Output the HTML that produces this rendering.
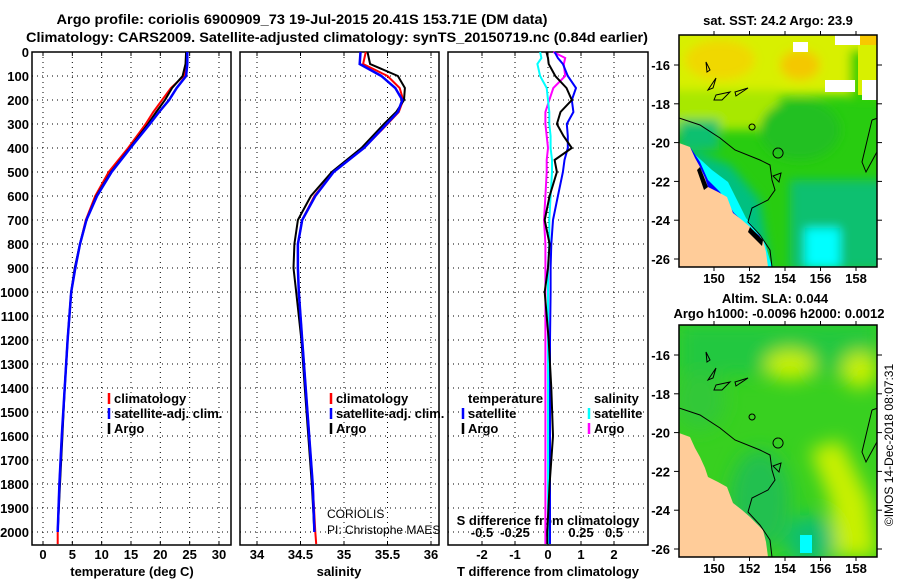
<!DOCTYPE html>
<html><head><meta charset="utf-8"><style>
body{margin:0;background:#fff}
svg{display:block;font-family:"Liberation Sans",sans-serif}
.b{font-weight:bold;font-size:13px}
</style></head><body>
<svg id="c" width="900" height="580" viewBox="0 0 900 580" xmlns="http://www.w3.org/2000/svg">
<defs>
<filter id="bl1" x="-20%" y="-20%" width="140%" height="140%"><feGaussianBlur stdDeviation="5"/></filter>
<filter id="bl2" x="-20%" y="-20%" width="140%" height="140%"><feGaussianBlur stdDeviation="9"/></filter>
<clipPath id="m1c"><rect x="679" y="35" width="198" height="232"/></clipPath>
<clipPath id="m2c"><rect x="679" y="325" width="198" height="232"/></clipPath>
</defs>
<text x="302" y="24" text-anchor="middle" font-weight="bold" font-size="14" textLength="491" lengthAdjust="spacingAndGlyphs">Argo profile: coriolis 6900909_73 19-Jul-2015 20.41S 153.71E (DM data)</text>
<text x="337" y="42" text-anchor="middle" font-weight="bold" font-size="14" textLength="622" lengthAdjust="spacingAndGlyphs">Climatology: CARS2009. Satellite-adjusted climatology: synTS_20150719.nc (0.84d earlier)</text>
<g id="plots"></g>
<g id="maps"></g>
</svg>
<script>
// ---- profile data ----
const depths = [0,50,100,150,200,250,300,400,500,600,700,800,900,1000,1200,1400,1600,1800,2000,2050];
const depthArgo = [0,50,100,150,200,250,300,400,500,600,700,800,900,1000,1200,1400,1600,1800,2000];
const tClim = [24.5,24.5,24.0,21.8,20.3,18.8,17.5,14.5,11.2,8.9,7.3,6.3,5.5,4.8,4.2,3.7,3.2,2.8,2.5,2.5];
const tSat  = [24.6,24.6,24.4,22.8,21.5,19.8,18.2,14.9,11.7,9.2,7.4,6.3,5.5,4.8,4.2,3.7,3.2,2.8,2.5];
const tArgo = [24.4,24.3,23.8,22.0,20.8,19.3,17.9,14.8,11.6,9.1,7.4,6.3,5.4,4.8,4.2,3.7,3.3,2.9,2.5];
const sClim = [35.25,35.22,35.5,35.64,35.68,35.63,35.5,35.23,34.88,34.66,34.52,34.47,34.47,34.48,34.52,34.56,34.6,34.64,34.67,34.68];
const sSat  = [35.19,35.18,35.43,35.59,35.67,35.62,35.49,35.23,34.88,34.67,34.52,34.47,34.47,34.48,34.52,34.56,34.6,34.64,34.66];
const sArgo = [35.27,35.3,35.62,35.7,35.69,35.6,35.46,35.2,34.86,34.62,34.47,34.43,34.42,34.45,34.51,34.55,34.59,34.63,34.66];
const diffDepths = [0,25,50,100,150,200,250,300,350,400,450,500,600,700,800,900,1000,1200,1400,1600,1800,2000,2050];
const dtSat  = [0.2,0.3,0.45,0.6,0.85,0.72,0.77,0.57,0.6,0.6,0.5,0.45,0.3,0.15,0.1,0.08,0.08,0.06,0.06,0.06,0.06,0.06,0.06];
const dtArgo = [-0.05,0.0,0.02,0.22,0.56,0.72,0.38,0.27,0.47,0.72,0.2,0.27,0.05,-0.1,0.05,0.0,-0.1,0.02,0.1,0.15,0.05,-0.02,-0.02];
const dsSat  = [-0.06,-0.05,-0.08,-0.06,-0.01,0,0.01,0.01,0.02,0.02,0.03,0.03,0.02,0.01,0.01,0,0,0,0,0,0,0,0];
const dsArgo = [0.04,0.13,0.12,0.13,0.04,0.01,-0.02,-0.02,-0.01,0,-0.01,-0.01,-0.02,-0.03,-0.02,-0.02,-0.02,-0.02,-0.02,-0.02,-0.02,-0.02,-0.02];
const depthTicks = [0,100,200,300,400,500,600,700,800,900,1000,1100,1200,1300,1400,1500,1600,1700,1800,1900,2000];
const tTicks = [0,5,10,15,20,25,30];
const sTicks = [34,34.5,35,35.5,36];
const dtTicks = [-2,-1,0,1,2];
const dsTicks = [-0.5,-0.25,0,0.25,0.5];
const lonTicks = [150,152,154,156,158];
const latTicks = [-16,-18,-20,-22,-24,-26];

const NS='http://www.w3.org/2000/svg';
const root=document.getElementById('plots');
function mk(tag,attrs,parent){const e=document.createElementNS(NS,tag);for(const k in attrs)e.setAttribute(k,attrs[k]);(parent||root).appendChild(e);return e;}
const yD = d => 52 + d*0.24;
const xT = v => 43 + v*5.866;
const xS = v => 257 + (v-34)*87;
const xDT = v => 548 + v*33;
const xDS = v => 548 + v*132;
const PT=52, PB=545;

function panel(name,x0,x1,ticks,xf){
  const g=mk('g',{});
  
  
  ticks.forEach(t=>{const x=xf(t);mk('line',{x1:x,x2:x,y1:PT,y2:PB,stroke:'#000','stroke-width':1,'stroke-dasharray':'1,4'},g);
    mk('line',{x1:x,x2:x,y1:PT,y2:PT+4,stroke:'#000'},g);mk('line',{x1:x,x2:x,y1:PB,y2:PB-4,stroke:'#000'},g);});
  depthTicks.forEach(d=>{const y=yD(d);mk('line',{x1:x0,x2:x1,y1:y,y2:y,stroke:'#000','stroke-width':1,'stroke-dasharray':'1,4'},g);});
  mk('rect',{x:x0,y:PT,width:x1-x0,height:PB-PT,fill:'none',stroke:'#000','stroke-width':1.5},g);
  return g;
}
function series(name,vals,ds,xf,color,w){
  let d='';vals.forEach((v,i)=>{d+=(i?'L':'M')+xf(v).toFixed(1)+','+yD(ds[i]).toFixed(1);});
  const p=mk('path',{d:d,fill:'none',stroke:color,'stroke-width':w||2});
  
  
}
function txt(s,x,y,name,extra){const t=mk('text',Object.assign({x:x,y:y,class:'b'},extra||{}));t.textContent=s;return t;}

panel('temperature-panel',32,231,tTicks,xT);
panel('salinity-panel',240,439,sTicks,xS);
panel('difference-panel',448,648,dtTicks,xDT);

depthTicks.forEach(d=>{txt(String(d),29,yD(d)+5,'depth-tick-label',{'text-anchor':'end'});});
tTicks.forEach(t=>{txt(String(t),xT(t),559,'temperature-tick-label',{'text-anchor':'middle'});});
sTicks.forEach(t=>{txt(String(t),xS(t),559,'salinity-tick-label',{'text-anchor':'middle'});});
dtTicks.forEach(t=>{txt(String(t),xDT(t),559,'t-diff-tick-label',{'text-anchor':'middle'});});
dsTicks.forEach(t=>{txt(String(t),xDS(t),537,'s-diff-tick-label',{'text-anchor':'middle'});});
txt('temperature (deg C)',132,576,'temperature-axis-title',{'text-anchor':'middle'});
txt('salinity',339,576,'salinity-axis-title',{'text-anchor':'middle'});
txt('T difference from climatology',548,576,'t-diff-axis-title',{'text-anchor':'middle'});
txt('S difference from climatology',548,525,'s-diff-axis-title',{'text-anchor':'middle'});

series('temp-climatology-line',tClim,depths,xT,'#f00',2);
series('temp-argo-line',tArgo,depthArgo,xT,'#000',2);
series('temp-satellite-line',tSat,depthArgo,xT,'#00f',2.5);
series('sal-climatology-line',sClim,depths,xS,'#f00',2);
series('sal-argo-line',sArgo,depthArgo,xS,'#000',2);
series('sal-satellite-line',sSat,depthArgo,xS,'#00f',2.5);
series('s-diff-argo-line',dsArgo,diffDepths,xDS,'#f0f',2);
series('s-diff-satellite-line',dsSat,diffDepths,xDS,'#0ff',2);
series('t-diff-satellite-line',dtSat,diffDepths,xDT,'#00f',2);
series('t-diff-argo-line',dtArgo,diffDepths,xDT,'#000',2);

function legend(x,y,color,label,name){const l=mk('line',{x1:x,x2:x,y1:y-10,y2:y+1,stroke:color,'stroke-width':2.5});txt(label,x+5,y,name);}
legend(109,403,'#f00','climatology','legend-climatology');
legend(109,418,'#00f','satellite-adj. clim.','legend-satellite-adj');
legend(109,433,'#000','Argo','legend-argo');
legend(331,403,'#f00','climatology','legend-sal-climatology');
legend(331,418,'#00f','satellite-adj. clim.','legend-sal-satellite-adj');
legend(331,433,'#000','Argo','legend-sal-argo');
txt('temperature',468,403,'legend-temperature-heading');
legend(463,418,'#00f','satellite','legend-t-satellite');
legend(463,433,'#000','Argo','legend-t-argo');
txt('salinity',594,403,'legend-salinity-heading');
legend(589,418,'#0ff','satellite','legend-s-satellite');
legend(589,433,'#f0f','Argo','legend-s-argo');
let t1=txt('CORIOLIS',327,518,'source-label');t1.setAttribute('class','');t1.setAttribute('font-size','12');
let t2=txt('PI: Christophe MAES',327,534,'pi-label');t2.setAttribute('class','');t2.setAttribute('font-size','12');

// ---- maps ----
const mg=document.getElementById('maps');
const lonX = lon => 714 + (lon-150)*17.75;
const latY = lat => 65 + (-16-lat)*19.4;
const coast='M679,143 L690,147 L695,158 L700,167 L705,178 L708,187 L718,192 L727,197 L730,205 L733,213 L742,220 L750,227 L757,234 L763,240 L766,252 L768,267 L679,267 Z';
const contours='M679,118 L700,125 L720,138 L735,150 L760,160 L770,165 L772,180 L775,190 L768,200 L752,208 L748,222 L760,235 L770,250 L772,267 M872,120 L878,118 L878,150 L866,172 L862,162 L872,120 M706,62 L710,70 L707,72 Z M716,78 L713,88 L708,90 Z M716,95 L730,92 L722,100 L714,100 Z M735,92 L748,88 L736,96 Z M752,124 a3,3 0 1,0 0.1,0 M778,148 a5,5 0 1,0 0.1,0 M773,176 L781,173 L779,182 Z';
function map(y0,id,body,label){
  const g=document.createElementNS(NS,'g');
  
  
  g.innerHTML=body;
  mg.appendChild(g);
  return g;
}
map(0,'sst-map',
`<g clip-path="url(#m1c)"><rect x="679" y="35" width="198" height="232" fill="#28cc10"/>
<g filter="url(#bl1)"><rect x="670" y="25" width="220" height="70" fill="#d8f000"/><rect x="670" y="90" width="110" height="40" fill="#a8e800"/>
<ellipse cx="720" cy="60" rx="35" ry="20" fill="#f0d800"/><ellipse cx="800" cy="65" rx="20" ry="15" fill="#f4c800"/>
<rect x="850" y="50" width="30" height="50" fill="#30d000"/><ellipse cx="800" cy="130" rx="40" ry="30" fill="#20c020"/>
<rect x="790" y="180" width="100" height="90" fill="#10c070"/><rect x="679" y="120" width="40" height="30" fill="#10c070"/>
<path d="M690,150 L730,165 L760,200 L770,267 L690,267 Z" fill="#00c080"/>
<rect x="805" y="228" width="35" height="40" fill="#00ffff"/></g>
<rect x="860" y="35" width="17" height="10" fill="#f8c800"/><rect x="835" y="35" width="25" height="10" fill="#fff"/><rect x="825" y="80" width="30" height="12" fill="#fff"/><rect x="858" y="45" width="19" height="50" fill="#d8f000"/><rect x="862" y="80" width="15" height="20" fill="#fff"/><rect x="793" y="42" width="15" height="10" fill="#fff"/>
<path d="M690,150 L712,170 L728,182 L746,218 L764,240 L772,267 L760,267 L752,245 L735,225 L722,205 L705,190 Z" fill="#00ffff"/>
<path d="M690,147 L700,162 L708,180 L720,192 L734,213 L750,228 L760,236 L758,245 L745,232 L730,220 L712,200 L696,180 Z" fill="#0000ff"/>
<path d="${coast}" fill="#ffcc99"/><path d="M700,167 L708,187 L704,190 L697,170 Z M750,227 L763,240 L762,246 L748,232 Z" fill="#000"/>
<path d="${contours}" fill="none" stroke="#000" stroke-width="1"/></g>
<rect x="679" y="35" width="198" height="232" fill="none" stroke="#000" stroke-width="1.5"/>
<text x="778" y="25" text-anchor="middle" class="b">sat. SST: 24.2 Argo: 23.9</text>`);
map(290,'sla-map',
`<g clip-path="url(#m2c)"><rect x="679" y="325" width="198" height="232" fill="#38d020"/>
<g filter="url(#bl2)"><rect x="679" y="325" width="198" height="50" fill="#20c840"/><ellipse cx="790" cy="365" rx="25" ry="15" fill="#c8f000"/><ellipse cx="860" cy="370" rx="18" ry="18" fill="#c8f000"/>
<path d="M810,450 L840,440 L870,500 L877,557 L835,557 L830,500 Z" fill="#c8f000"/><ellipse cx="760" cy="500" rx="30" ry="50" fill="#20c050"/><ellipse cx="700" cy="400" rx="25" ry="30" fill="#30c838"/><ellipse cx="810" cy="540" rx="25" ry="25" fill="#10c070"/></g>
<rect x="800" y="535" width="12" height="18" fill="#00ffff"/>
<path d="${coast}" transform="translate(0,290)" fill="#ffcc99"/>
<path d="${contours}" transform="translate(0,290)" fill="none" stroke="#000" stroke-width="1"/></g>
<rect x="679" y="325" width="198" height="232" fill="none" stroke="#000" stroke-width="1.5"/>
<text x="775" y="303" text-anchor="middle" class="b">Altim. SLA: 0.044</text>
<text x="779" y="318" text-anchor="middle" class="b">Argo h1000: -0.0096 h2000: 0.0012</text>
<text transform="translate(893,445) rotate(-90)" text-anchor="middle" font-size="12">©IMOS 14-Dec-2018 08:07:31</text>`);
[0,290].forEach(off=>{
  lonTicks.forEach(l=>{const x=lonX(l);mk('line',{x1:x,x2:x,y1:35+off,y2:31+off,stroke:'#000'},mg);mk('line',{x1:x,x2:x,y1:267+off,y2:271+off,stroke:'#000'},mg);
    const t=mk('text',{x:x,y:283+off,'text-anchor':'middle',class:'b'},mg);t.textContent=String(l);});
  latTicks.forEach(l=>{const y=latY(l)+off;mk('line',{x1:679,x2:674,y1:y,y2:y,stroke:'#000'},mg);mk('line',{x1:877,x2:882,y1:y,y2:y,stroke:'#000'},mg);
    const t=mk('text',{x:670,y:y+5,'text-anchor':'end',class:'b'},mg);t.textContent=String(l);});
});
</script>
</body></html>
